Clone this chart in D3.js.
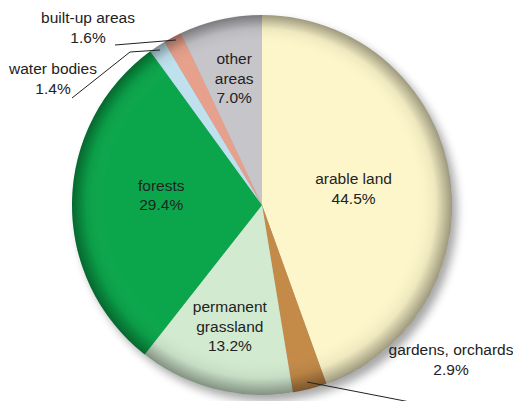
<!DOCTYPE html>
<html>
<head>
<meta charset="utf-8">
<script src="https://cdn.jsdelivr.net/npm/d3@7"></script>
<style>
  body { margin: 0; background: #fff; }
  svg { display: block; font-family: "Liberation Sans", Arial, sans-serif; }
</style>
</head>
<body>
<div id="chart"></div>
<script>
// land use shares, clockwise from 12 o'clock
const categories = ["arable land", "gardens, orchards", "permanent grassland", "forests", "water bodies", "built-up areas", "other areas"];
const shares = [44.5, 2.9, 13.2, 29.4, 1.4, 1.6, 7.0];
const colours = ["#fdf6ca", "#c48a48", "#d2ead0", "#0ba64b", "#bfe1ee", "#e6a08b", "#c5c5ca"];

// label text lines (category label split as in the picture)
const labelLines = [
  ["arable land"], ["gardens, orchards"], ["permanent", "grassland"], ["forests"],
  ["water bodies"], ["built-up areas"], ["other", "areas"]
];

const width = 513, height = 401;
const cx = 262, cy = 205, r = 190;

const svg = d3.select("#chart").append("svg")
  .attr("width", width)
  .attr("height", height);

const defs = svg.append("defs");

// soft drop shadow
defs.append("filter").attr("id", "blur")
  .attr("x", "-20%").attr("y", "-20%").attr("width", "140%").attr("height", "140%")
  .append("feGaussianBlur").attr("stdDeviation", 5);

// dome shading: darker rim
const rim = defs.append("radialGradient").attr("id", "rim")
  .attr("cx", "50%").attr("cy", "50%").attr("r", "50%")
  .attr("fx", "47%").attr("fy", "45%");
rim.append("stop").attr("offset", "0%").attr("stop-color", "#fff").attr("stop-opacity", 0.0);
rim.append("stop").attr("offset", "82%").attr("stop-color", "#fff").attr("stop-opacity", 0.0);
rim.append("stop").attr("offset", "92%").attr("stop-color", "#000").attr("stop-opacity", 0.06);
rim.append("stop").attr("offset", "100%").attr("stop-color", "#000").attr("stop-opacity", 0.38);

const g = svg.append("g").attr("transform", `translate(${cx},${cy})`);

g.append("circle")
  .attr("cx", 5).attr("cy", 6).attr("r", r)
  .attr("fill", "#000").attr("opacity", 0.35)
  .attr("filter", "url(#blur)");

const pie = d3.pie().sort(null).value(d => d);
const arcs = pie(shares);
const arc = d3.arc().innerRadius(0).outerRadius(r);

g.selectAll("path.slice")
  .data(arcs)
  .enter()
  .append("path")
  .attr("class", "slice")
  .attr("d", arc)
  .attr("fill", (d, i) => colours[i]);

g.append("circle")
  .attr("r", r)
  .attr("fill", "url(#rim)");

// inside labels sit on an arc centroid (radius fraction) with a small nudge
const inside = {
  0: { k: 0.5, dx: -2, dy: 0 },
  2: { k: 0.68, dx: 0, dy: -4 },
  3: { k: 0.52, dx: -2, dy: -8 },
  6: { k: 0.72, dx: 2, dy: 7 }
};

const fs = 15.5, lh = 19.5;
const text = svg.append("g")
  .attr("font-size", fs + "px")
  .attr("fill", "#222")
  .attr("text-anchor", "middle");

// outside label anchors (top line baseline)
const outsidePos = { 1: [451, 355], 4: [53, 74], 5: [88, 23] };

arcs.forEach(function(d, i) {
  let x, y;
  const lines = labelLines[i].concat([d3.format(".1f")(shares[i]) + "%"]);
  if (inside[i]) {
    const o = inside[i];
    const c = d3.arc().innerRadius(r * o.k).outerRadius(r * o.k).centroid(d);
    x = cx + c[0] + o.dx;
    y = cy + c[1] - (lines.length - 1) * lh / 2 + fs * 0.35 + o.dy;
  } else {
    x = outsidePos[i][0];
    y = outsidePos[i][1];
  }
  const t = text.append("text").attr("x", x).attr("y", y);
  lines.forEach(function(l, k) {
    t.append("tspan").attr("x", x).attr("dy", k === 0 ? 0 : lh).text(l);
  });
});

// leader lines
const line = d3.line();
const leaders = [
  [[115, 45], [176, 40]],
  [[72, 98], [130, 52], [160, 50]],
  [[307, 382], [410, 402]]
];
svg.selectAll("path.leader")
  .data(leaders)
  .enter()
  .append("path")
  .attr("class", "leader")
  .attr("d", line)
  .attr("fill", "none")
  .attr("stroke", "#222")
  .attr("stroke-width", 1);
</script>
</body>
</html>
